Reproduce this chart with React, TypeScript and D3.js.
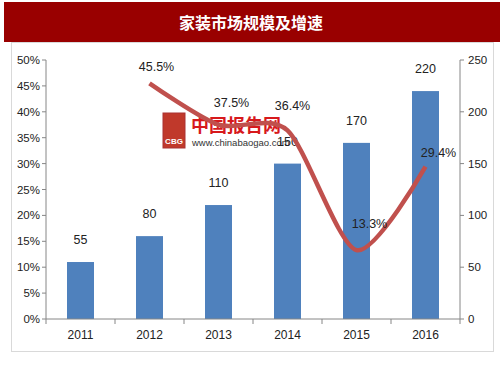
import React from "react";
import * as d3 from "d3";

const years = ["2011", "2012", "2013", "2014", "2015", "2016"];
const marketSize = [55, 80, 110, 150, 170, 220];
const growthYears = ["2012", "2013", "2014", "2015", "2016"];
const growthRate = [45.5, 37.5, 36.4, 13.3, 29.4];
const leftTicks = [0, 5, 10, 15, 20, 25, 30, 35, 40, 45, 50];
const rightTicks = [0, 50, 100, 150, 200, 250];
const title = "家装市场规模及增速";

// label placement offsets (layout only)
const growthLabelOffset = [
  [7, -16],
  [13, -22],
  [5, -24],
  [13, -26],
  [13, -14],
];

export default function App() {
  const W = 503;
  const H = 378;
  const left = 46;
  const right = 460;
  const top = 60;
  const bottom = 319;

  const x = d3.scaleBand<string>().domain(years).range([left, right]);
  const yR = d3.scaleLinear().domain([0, 250]).range([bottom, top]);
  const yL = d3.scaleLinear().domain([0, 50]).range([bottom, top]);
  const barW = 27;
  const cx = (c: string) => (x(c) as number) + x.bandwidth() / 2;

  const line = d3
    .line<number>()
    .x((_, i) => cx(growthYears[i]))
    .y((d) => yL(d))
    .curve(d3.curveCardinal.tension(0.2));

  const axisColor = "#868686";
  const font = "'Liberation Sans', Arial, sans-serif";
  const textColor = "#222";

  return (
    <svg
      width={W}
      height={H}
      style={{ position: "absolute", left: 0, top: 0, background: "#fff" }}
    >
      {/* header */}
      <rect x={4} y={2} width={496} height={40} fill="#990000" />
      <text
        x={251}
        y={22}
        textAnchor="middle"
        dominantBaseline="central"
        fill="#fff"
        fontSize={16}
        fontWeight="bold"
        fontFamily="'Noto Sans CJK SC', sans-serif"
      >
        {title}
      </text>
      {/* chart frame */}
      <rect x={11.5} y={42.5} width={482} height={309} fill="none" stroke="#d9d9d9" />

      {/* watermark */}
      <g>
        <rect x={163} y={113} width={22} height={35} fill="#c0392b" stroke="#a33" />
        <text x={174} y={144} textAnchor="middle" fill="#fff" fontSize={8} fontWeight="bold" fontFamily={font}>
          CBG
        </text>
        <text x={191} y={132} fill="#d7191c" fontSize={18} fontWeight="bold" fontFamily="'Noto Sans CJK SC', sans-serif">
          中国报告网
        </text>
        <text x={192} y={146} fill="#333" fontSize={9.5} fontFamily={font}>
          www.chinabaogao.com
        </text>
      </g>

      {/* bars */}
      {years.map((yr, i) => (
        <rect
          key={yr}
          x={cx(yr) - barW / 2}
          y={yR(marketSize[i])}
          width={barW}
          height={bottom - yR(marketSize[i])}
          fill="#4F81BD"
        />
      ))}
      {years.map((yr, i) => (
        <text
          key={"l" + yr}
          x={cx(yr)}
          y={yR(marketSize[i]) - 22}
          textAnchor="middle"
          dominantBaseline="central"
          fontSize={12.5}
          fontFamily={font}
          fill={textColor}
        >
          {marketSize[i]}
        </text>
      ))}

      {/* line */}
      <path d={line(growthRate) || ""} fill="none" stroke="#C0504D" strokeWidth={4.5} />
      {growthRate.map((v, i) => (
        <text
          key={"g" + i}
          x={cx(growthYears[i]) + growthLabelOffset[i][0]}
          y={yL(v) + growthLabelOffset[i][1]}
          textAnchor="middle"
          dominantBaseline="central"
          fontSize={12.5}
          fontFamily={font}
          fill={textColor}
        >
          {v.toFixed(1) + "%"}
        </text>
      ))}

      {/* left axis */}
      <line x1={left} x2={left} y1={top} y2={bottom} stroke={axisColor} />
      {leftTicks.map((t) => (
        <g key={"lt" + t}>
          <line x1={left - 4} x2={left} y1={yL(t)} y2={yL(t)} stroke={axisColor} />
          <text
            x={left - 6}
            y={yL(t)}
            textAnchor="end"
            dominantBaseline="central"
            fontSize={11.5}
            fontFamily={font}
            fill={textColor}
          >
            {t + "%"}
          </text>
        </g>
      ))}
      {/* right axis */}
      <line x1={right} x2={right} y1={top} y2={bottom} stroke={axisColor} />
      {rightTicks.map((t) => (
        <g key={"rt" + t}>
          <line x1={right} x2={right + 4} y1={yR(t)} y2={yR(t)} stroke={axisColor} />
          <text
            x={right + 8}
            y={yR(t)}
            textAnchor="start"
            dominantBaseline="central"
            fontSize={11.5}
            fontFamily={font}
            fill={textColor}
          >
            {t}
          </text>
        </g>
      ))}
      {/* x axis */}
      <line x1={left} x2={right} y1={bottom} y2={bottom} stroke={axisColor} />
      {years.concat(["end"]).map((yr, i) => {
        const xx = i < years.length ? (x(yr) as number) : right;
        return <line key={"xt" + i} x1={xx} x2={xx} y1={bottom} y2={bottom + 5} stroke={axisColor} />;
      })}
      {years.map((yr) => (
        <text
          key={"xl" + yr}
          x={cx(yr)}
          y={bottom + 16}
          textAnchor="middle"
          dominantBaseline="central"
          fontSize={12}
          fontFamily={font}
          fill={textColor}
        >
          {yr}
        </text>
      ))}
    </svg>
  );
}
